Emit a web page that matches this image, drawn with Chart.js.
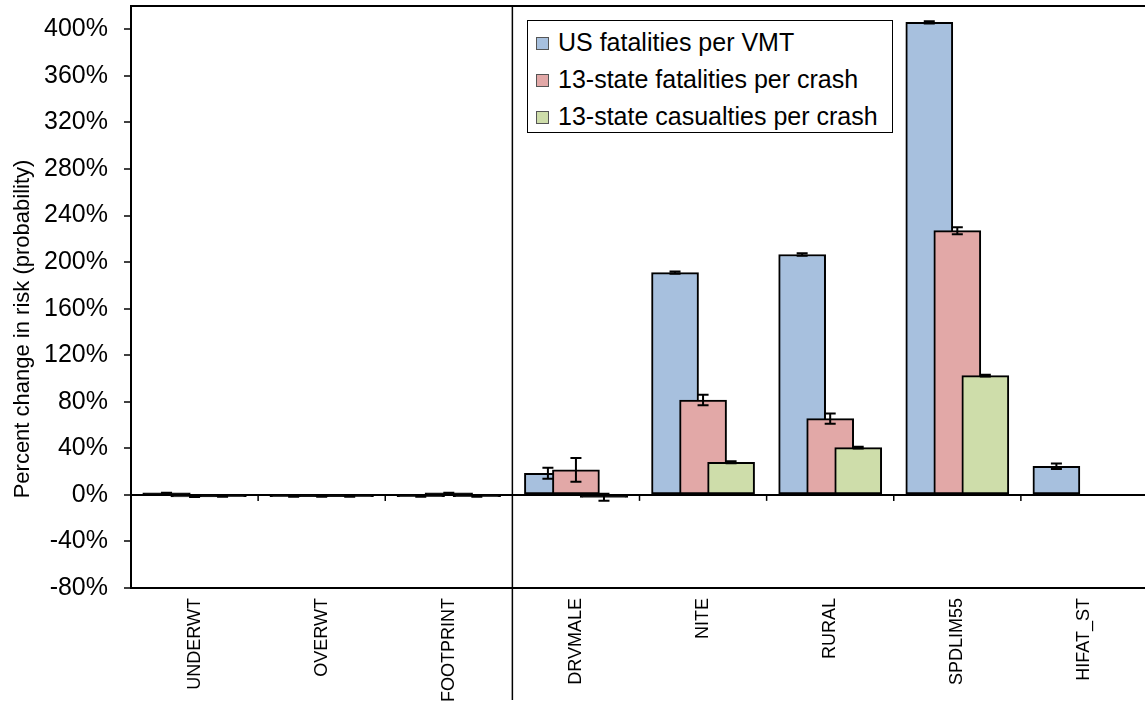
<!DOCTYPE html>
<html>
<head>
<meta charset="utf-8">
<script src="https://cdn.jsdelivr.net/npm/chart.js@4.4.1/dist/chart.umd.min.js"></script>
<style>
  body{margin:0;background:#fff;font-family:"Liberation Sans",Arial,sans-serif;}
  #wrap{position:relative;width:1145px;height:706px;overflow:hidden;}
  #legend{position:absolute;left:527px;top:20px;width:356px;height:108px;padding:3px 0 0 8px;
    border:1.5px solid #000;background:#fff;font-size:25px;color:#000;}
  #legend .row{height:37px;line-height:36px;white-space:nowrap;}
  #legend .sw{display:inline-block;width:11px;height:11px;border:1px solid #555;margin-right:9px;vertical-align:1px;}
</style>
</head>
<body>
<div id="wrap">
  <canvas id="c" width="1160" height="706"></canvas>
  <div id="legend"></div>
</div>
<script>
const categories=['UNDERWT','OVERWT','FOOTPRINT','DRVMALE','NITE','RURAL','SPDLIM55','HIFAT_ST'];
const seriesNames=['US fatalities per VMT','13-state fatalities per crash','13-state casualties per crash'];

// percent change
const usVmt=[1.5,-1.2,-1.2,18.6,191,206.5,406,24.6];
const usVmtErr=[0.4,0.4,0.4,4.8,1,1,1,2.4];
const fatal13=[-1.5,-1.3,1.5,21.5,81.5,65.5,227,0];
const fatal13Err=[0.4,0.4,0.4,10.2,4.5,4.4,3,0];
const casual13=[-1.2,-1.2,-1.3,-2,28,40.6,102.4,0];
const casual13Err=[0.3,0.3,0.3,3,0.8,0.8,0.8,0];

const yTicks=[-80,-40,0,40,80,120,160,200,240,280,320,360,400];

const values=[usVmt,fatal13,casual13];
const errs=[usVmtErr,fatal13Err,casual13Err];
const colors=['#A7C0DE','#E2A8A7','#CEDDAA'];
const shift=[-0.2205,0,0.2205]; // Excel overlap: bars shifted within each category
const FONT='"Liberation Sans", Arial, sans-serif';
const tiny=c=>c.raw&&Math.abs(c.raw.y)<2.5;

// legend (html)
const lg=document.getElementById('legend');
seriesNames.forEach((n,i)=>{
  const r=document.createElement('div');r.className='row';
  r.innerHTML=`<span class="sw" style="background:${colors[i]}"></span>${n}`;
  lg.appendChild(r);
});

const extras={
  id:'extras',
  afterDatasetsDraw(chart){
    const {ctx,chartArea:a,scales:{x,y}}=chart;
    ctx.save();
    ctx.strokeStyle='#000';ctx.lineWidth=2;
    // error bars
    values.forEach((vals,d)=>{
      const meta=chart.getDatasetMeta(d);
      meta.data.forEach((bar,i)=>{
        const v=vals[i],e=errs[d][i];
        if(v==null)return;
        const y1=y.getPixelForValue(v+e),y2=y.getPixelForValue(v-e),bx=bar.x;
        ctx.beginPath();
        ctx.moveTo(bx,y1);ctx.lineTo(bx,y2);
        ctx.moveTo(bx-5.5,y1);ctx.lineTo(bx+5.5,y1);
        ctx.moveTo(bx-5.5,y2);ctx.lineTo(bx+5.5,y2);
        ctx.stroke();
      });
    });
    // top frame
    ctx.beginPath();ctx.moveTo(a.left,a.top);ctx.lineTo(a.right,a.top);ctx.stroke();
    // small ticks under zero line between categories
    const y0=y.getPixelForValue(0);
    ctx.lineWidth=1.5;
    for(let i=0;i<categories.length-1;i++){
      if(i===2)continue;
      const px=x.getPixelForValue(i+0.5);
      ctx.beginPath();ctx.moveTo(px,y0);ctx.lineTo(px,y0+6);ctx.stroke();
    }
    // divider between vehicle and driver/road groups
    const dx=x.getPixelForValue(2.5);
    ctx.lineWidth=1.5;
    ctx.beginPath();ctx.moveTo(dx,a.top);ctx.lineTo(dx,700);ctx.stroke();
    // y title
    ctx.fillStyle='#000';
    ctx.font='22px '+FONT;
    ctx.textAlign='center';ctx.textBaseline='middle';
    ctx.translate(23,329);ctx.rotate(-Math.PI/2);
    ctx.fillText('Percent change in risk (probability)',0,0);
    ctx.restore();
  }
};

new Chart(document.getElementById('c'),{
  type:'bar',
  plugins:[extras],
  data:{
    datasets:values.map((vals,d)=>({
      label:seriesNames[d],
      data:vals.map((v,i)=>({x:i+shift[d],y:v})),
      // near-zero bars render as thick dark strokes, like the original
      backgroundColor:c=>tiny(c)?'#111':colors[d],
      borderColor:'#000',
      borderWidth:2,
      borderSkipped:false,
      inflateAmount:c=>tiny(c)?0.6:0.33,
      barThickness:47,
      grouped:false,
      order:3-d
    }))
  },
  options:{
    responsive:false,
    animation:false,
    devicePixelRatio:1,
    layout:{padding:{top:6,right:12,left:0,bottom:0}},
    plugins:{legend:{display:false},tooltip:{enabled:false}},
    scales:{
      x:{
        type:'linear',min:-0.5,max:7.5,offset:false,
        afterBuildTicks:s=>{s.ticks=categories.map((_,i)=>({value:i}));},
        afterFit:s=>{s.height=118;s.paddingLeft=0;s.paddingRight=0;},
        grid:{display:false,drawTicks:false},
        border:{display:true,color:'#000',width:2},
        ticks:{autoSkip:false,minRotation:90,maxRotation:90,padding:10,color:'#000',
          font:{family:FONT,size:18},callback:v=>categories[v]}
      },
      y:{
        min:-80,max:420,
        afterBuildTicks:s=>{s.ticks=yTicks.map(v=>({value:v}));},
        afterFit:s=>{s.width=131;s.paddingTop=0;s.paddingBottom=0;},
        grid:{color:c=>c.tick&&c.tick.value===0?'#000':'rgba(0,0,0,0)',lineWidth:2,
          tickColor:'#000',tickLength:7,tickWidth:1.5},
        border:{display:true,color:'#000',width:2},
        ticks:{padding:16,color:'#000',font:{family:FONT,size:25},callback:v=>v+'%'}
      }
    }
  }
});
</script>
</body>
</html>
